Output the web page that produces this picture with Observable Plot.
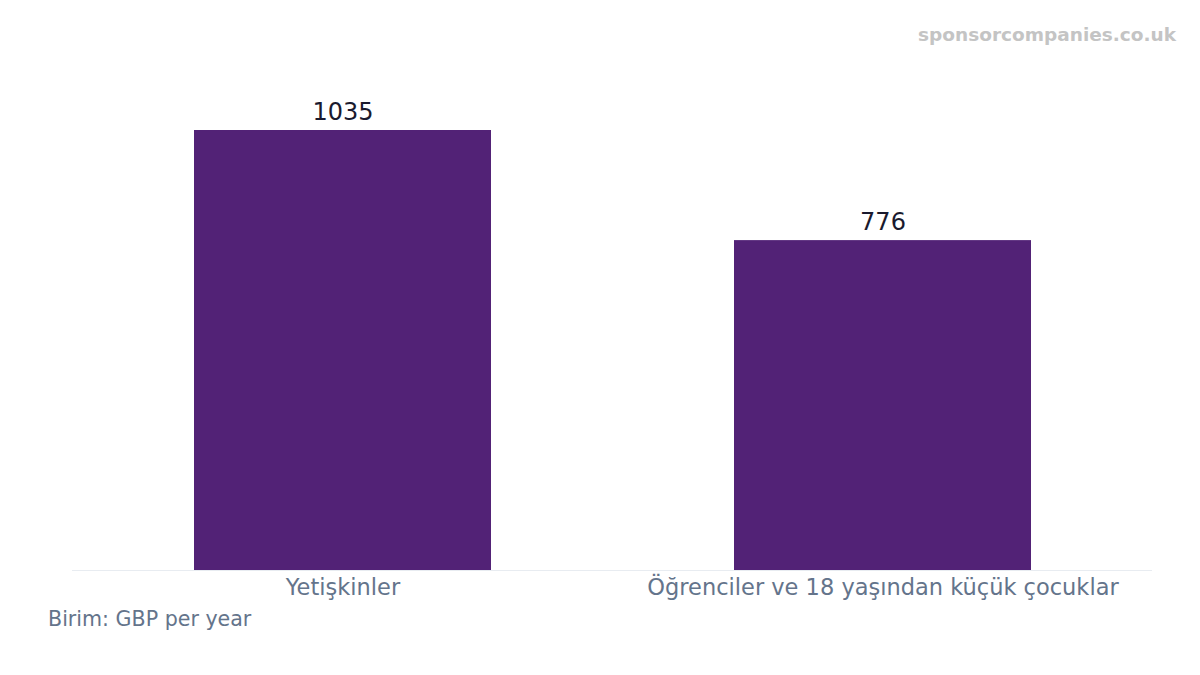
<!DOCTYPE html>
<html>
<head>
<meta charset="utf-8">
<script src="https://cdn.jsdelivr.net/npm/d3@7"></script>
<script src="https://cdn.jsdelivr.net/npm/@observablehq/plot@0.6"></script>
<style>
  html, body { margin: 0; padding: 0; background: #ffffff; }
  #wrap { position: relative; width: 1200px; height: 675px; font-family: "DejaVu Sans", sans-serif; }
  #watermark { position: absolute; right: 24px; top: 24px; font-size: 18.5px; font-weight: bold; color: #c4c4c4; }
  #caption { position: absolute; left: 48px; top: 607px; font-size: 20.6px; color: #64748b; }
  svg { position: absolute; left: 0; top: 0; }
</style>
</head>
<body>
<div id="wrap">
  <div id="chart"></div>
  <div id="watermark">sponsorcompanies.co.uk</div>
  <div id="caption">Birim: GBP per year</div>
</div>
<script>
const categories = ["Yetişkinler", "Öğrenciler ve 18 yaşından küçük çocuklar"];
const values = [1035, 776];
const data = categories.map((c, i) => ({category: c, value: values[i]}));

const chart = Plot.plot({
  width: 1200,
  height: 675,
  marginLeft: 72,
  marginRight: 48,
  marginTop: 86,
  marginBottom: 105,
  style: {fontFamily: "DejaVu Sans, sans-serif", background: "transparent"},
  x: {domain: categories, paddingInner: 0.45, paddingOuter: 0.225, label: null, tickSize: 0},
  y: {domain: [0, 1138.5], axis: null},
  marks: [
    Plot.barY(data, {x: "category", y: "value", fill: "#522276"}),
    Plot.ruleY([0], {stroke: "#e8ecf1", strokeWidth: 1}),
    Plot.text(data, {x: "category", y: "value", text: d => String(d.value), dy: -18, fontSize: 24, fill: "#1a1a2e"}),
    Plot.axisX({tickSize: 0, tickPadding: 9, fontSize: 22.5, color: "#64748b", label: null})
  ]
});
document.getElementById("chart").appendChild(chart);
chart.querySelectorAll("[aria-label='x-axis tick label'] text").forEach(t => t.setAttribute("fill", "#64748b"));
</script>
</body>
</html>
